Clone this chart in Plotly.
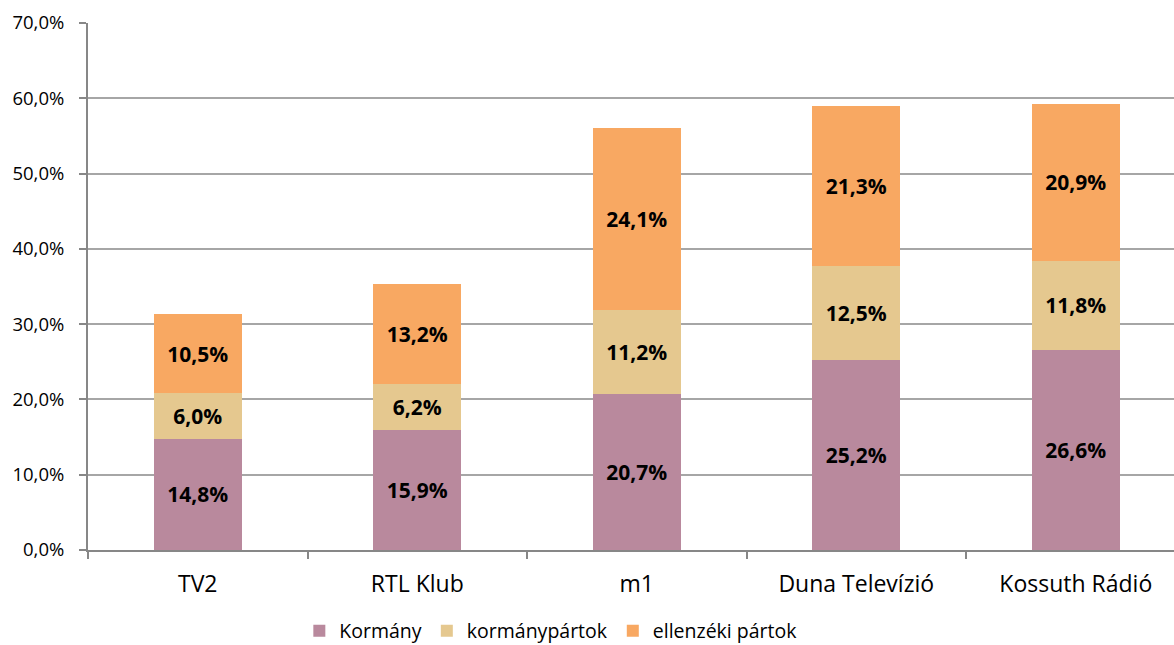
import plotly.graph_objects as go

categories = ["TV2", "RTL Klub", "m1", "Duna Televízió", "Kossuth Rádió"]
kormany = [14.8, 15.9, 20.7, 25.2, 26.6]
kormanypartok = [6.0, 6.2, 11.2, 12.5, 11.8]
ellenzeki = [10.5, 13.2, 24.1, 21.3, 20.9]
series_names = ["Kormány", "kormánypártok", "ellenzéki pártok"]
colors = ["#B9899D", "#E5C88F", "#F8A862"]
tick_vals = [0, 10, 20, 30, 40, 50, 60, 70]
tick_text = ["0,0%", "10,0%", "20,0%", "30,0%", "40,0%", "50,0%", "60,0%", "70,0%"]

FONT = "Open Sans"
W, H = 1174, 645
L, R, T, B = 88, 0, 23, 95
plot_w = W - L - R
plot_h = H - T - B
cat_px = 219.5  # pixels per category in the reference
x_range = [-0.5, -0.5 + plot_w / cat_px]

fig = go.Figure()
for name, vals, col in zip(series_names, [kormany, kormanypartok, ellenzeki], colors):
    fig.add_trace(go.Bar(
        x=categories, y=vals, name=name, marker=dict(color=col, line=dict(width=0)),
        text=[f"{v:.1f}%".replace(".", ",") for v in vals],
        textposition="inside", insidetextanchor="middle", textangle=0,
        textfont=dict(family=FONT, size=21, color="black", weight="bold"),
        width=0.401, hoverinfo="skip",
    ))

fig.update_layout(
    barmode="stack",
    width=W, height=H,
    margin=dict(l=L, r=R, t=T, b=B, autoexpand=False),
    plot_bgcolor="white", paper_bgcolor="white",
    font=dict(family=FONT, size=18, color="black"),
    showlegend=True,
    legend=dict(orientation="h", x=0.1946, xanchor="left",
                y=-81 / plot_h, yanchor="middle",
                font=dict(size=19.5), traceorder="normal", itemwidth=30,
                bgcolor="rgba(0,0,0,0)"),
)
fig.update_yaxes(range=[0, 70], tickvals=tick_vals, ticktext=tick_text,
                 showgrid=True, gridcolor="#A6A6A6", gridwidth=1.5,
                 showline=True, linecolor="#878787", linewidth=2,
                 ticks="outside", ticklen=7, tickcolor="#878787", tickwidth=1.5,
                 tickfont=dict(size=18.5), ticklabelstandoff=11,
                 zeroline=False, automargin=False)
fig.update_xaxes(type="category", range=x_range,
                 showline=True, linecolor="#878787", linewidth=2,
                 ticks="outside", tickson="boundaries", ticklen=7,
                 tickcolor="#878787", tickwidth=1.5,
                 tickfont=dict(size=23), ticklabelstandoff=12, automargin=False)

fig.write_html("out.html", config={"displayModeBar": False},
               post_script="document.body.style.margin='0';document.body.style.overflow='hidden';")
